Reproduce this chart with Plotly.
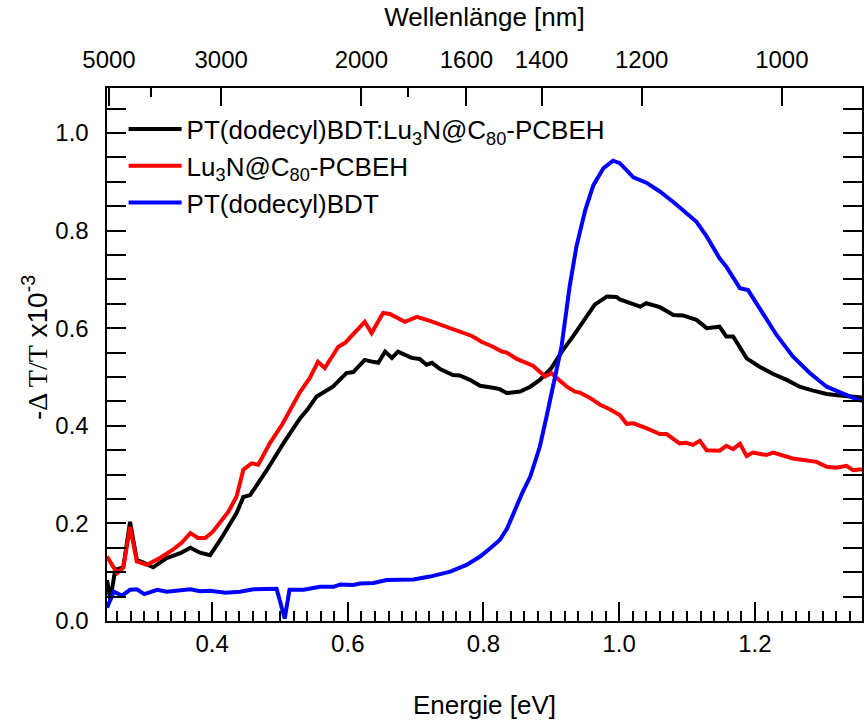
import plotly.graph_objects as go

# Energy axis values (eV) and -dT/T (x10^-3)
blend_e = [0.245, 0.250, 0.257, 0.269, 0.279, 0.289, 0.298, 0.313, 0.333, 0.353, 0.368, 0.382, 0.397,
           0.412, 0.436, 0.446, 0.456, 0.481, 0.505, 0.530, 0.540, 0.554, 0.578, 0.598, 0.608, 0.625,
           0.637, 0.645, 0.655, 0.665, 0.674, 0.694, 0.706, 0.716, 0.724, 0.736, 0.755, 0.765, 0.780,
           0.795, 0.814, 0.824, 0.834, 0.854, 0.869, 0.883, 0.900, 0.917, 0.932, 0.947, 0.964, 0.982,
           0.996, 1.001, 1.016, 1.031, 1.040, 1.060, 1.080, 1.094, 1.114, 1.129, 1.148, 1.158, 1.168,
           1.188, 1.207, 1.227, 1.247, 1.266, 1.286, 1.306, 1.325, 1.345, 1.358]
blend_v = [0.084, 0.043, 0.105, 0.110, 0.203, 0.125, 0.120, 0.110, 0.129, 0.139, 0.150, 0.140, 0.135,
           0.166, 0.221, 0.254, 0.258, 0.310, 0.364, 0.416, 0.432, 0.460, 0.480, 0.508, 0.510, 0.535,
           0.531, 0.529, 0.552, 0.539, 0.552, 0.539, 0.537, 0.525, 0.529, 0.516, 0.504, 0.503, 0.494,
           0.482, 0.478, 0.475, 0.467, 0.470, 0.480, 0.494, 0.518, 0.555, 0.583, 0.613, 0.648, 0.665,
           0.664, 0.659, 0.652, 0.644, 0.651, 0.643, 0.627, 0.626, 0.617, 0.600, 0.603, 0.583, 0.583,
           0.538, 0.521, 0.506, 0.494, 0.480, 0.472, 0.465, 0.462, 0.460, 0.458]

fullerene_e = [0.245, 0.260, 0.269, 0.279, 0.289, 0.304, 0.323, 0.341, 0.355, 0.368, 0.379, 0.390, 0.401,
               0.424, 0.436, 0.446, 0.458, 0.468, 0.485, 0.503, 0.530, 0.544, 0.556, 0.566, 0.586, 0.596,
               0.625, 0.635, 0.652, 0.662, 0.684, 0.702, 0.721, 0.736, 0.753, 0.768, 0.783, 0.797, 0.814,
               0.827, 0.834, 0.849, 0.864, 0.873, 0.891, 0.900, 0.908, 0.923, 0.935, 0.942, 0.957, 0.972,
               0.986, 1.001, 1.011, 1.021, 1.040, 1.060, 1.070, 1.089, 1.099, 1.109, 1.119, 1.129, 1.148,
               1.158, 1.168, 1.178, 1.188, 1.197, 1.217, 1.227, 1.256, 1.276, 1.291, 1.306, 1.320, 1.335,
               1.345, 1.358]
fullerene_v = [0.132, 0.098, 0.109, 0.193, 0.122, 0.115, 0.129, 0.145, 0.160, 0.180, 0.170, 0.170, 0.183,
               0.224, 0.255, 0.310, 0.323, 0.320, 0.364, 0.402, 0.470, 0.498, 0.531, 0.518, 0.562, 0.570,
               0.613, 0.590, 0.631, 0.629, 0.613, 0.623, 0.615, 0.607, 0.600, 0.590, 0.584, 0.572, 0.562,
               0.552, 0.550, 0.537, 0.527, 0.523, 0.501, 0.508, 0.498, 0.480, 0.470, 0.468, 0.457, 0.443,
               0.434, 0.422, 0.404, 0.405, 0.395, 0.383, 0.383, 0.364, 0.365, 0.361, 0.369, 0.350, 0.349,
               0.359, 0.352, 0.363, 0.338, 0.345, 0.340, 0.345, 0.333, 0.330, 0.326, 0.316, 0.314, 0.318,
               0.309, 0.311]

polymer_e = [0.245, 0.255, 0.267, 0.279, 0.289, 0.300, 0.319, 0.333, 0.368, 0.382, 0.397, 0.419, 0.441,
             0.461, 0.495, 0.500, 0.507, 0.514, 0.535, 0.559, 0.579, 0.589, 0.608, 0.618, 0.638, 0.657,
             0.697, 0.721, 0.751, 0.775, 0.795, 0.810, 0.824, 0.835, 0.846, 0.857, 0.869, 0.883, 0.893,
             0.902, 0.915, 0.927, 0.937, 0.950, 0.962, 0.977, 0.991, 1.001, 1.021, 1.040, 1.060, 1.082,
             1.099, 1.114, 1.129, 1.148, 1.158, 1.178, 1.190, 1.207, 1.232, 1.256, 1.281, 1.306, 1.325,
             1.335, 1.352, 1.358]
polymer_v = [0.027, 0.060, 0.052, 0.064, 0.065, 0.055, 0.064, 0.060, 0.065, 0.061, 0.062, 0.058, 0.060,
             0.065, 0.066, 0.040, 0.005, 0.064, 0.064, 0.070, 0.070, 0.075, 0.074, 0.077, 0.078, 0.084,
             0.085, 0.091, 0.101, 0.115, 0.132, 0.149, 0.166, 0.190, 0.227, 0.262, 0.296, 0.357, 0.419,
             0.480, 0.562, 0.685, 0.767, 0.842, 0.893, 0.928, 0.943, 0.938, 0.909, 0.898, 0.880, 0.856,
             0.835, 0.818, 0.788, 0.743, 0.726, 0.682, 0.678, 0.641, 0.586, 0.542, 0.508, 0.480, 0.468,
             0.463, 0.453, 0.451]

series_names = ["PT(dodecyl)BDT:Lu<sub>3</sub>N@C<sub>80</sub>-PCBEH",
                "Lu<sub>3</sub>N@C<sub>80</sub>-PCBEH",
                "PT(dodecyl)BDT"]
series_colors = ["#000000", "#ff0000", "#0000ff"]

energy_ticks = [0.4, 0.6, 0.8, 1.0, 1.2]
signal_ticks = [0.0, 0.2, 0.4, 0.6, 0.8, 1.0]

# Top axis: wavelength ticks (nm)
wl_major = [5000, 3000, 2000, 1600, 1400, 1200, 1000]
wl_minor = [4000, 1800]
HC = 1239.84  # eV*nm

x_range = [0.245, 1.358]
y_range = [0, 1.092]

fig = go.Figure()
for i, (xs, ys) in enumerate([(blend_e, blend_v), (fullerene_e, fullerene_v), (polymer_e, polymer_v)]):
    fig.add_trace(go.Scatter(x=xs, y=ys, mode="lines", name=series_names[i],
                             legendgroup=f"g{i}",
                             line=dict(color=series_colors[i], width=4)))

# invisible trace for the top axis
fig.add_trace(go.Scatter(x=[x_range[0]], y=[0], xaxis="x2", mode="markers",
                         marker=dict(opacity=0), showlegend=False, hoverinfo="skip"))

fam = "Liberation Sans, Arial, sans-serif"
tickfont = dict(family=fam, size=24, color="black")
titlefont = dict(family=fam, size=26, color="black")

fig.update_layout(
    width=864, height=720,
    margin=dict(l=107, r=2, t=88, b=99),
    paper_bgcolor="white", plot_bgcolor="white",
    font=dict(family=fam, size=24, color="black"),
    showlegend=True,
    legend=dict(x=0.022, y=0.967, xanchor="left", yanchor="top",
                bgcolor="rgba(0,0,0,0)", font=dict(family=fam, size=26, color="black"),
                tracegroupgap=0, itemwidth=53),
    xaxis=dict(range=x_range, showgrid=False, zeroline=False, automargin=False,
               showline=True, linecolor="black", linewidth=2,
               ticks="inside", ticklen=19, tickwidth=2, tickcolor="black",
               tickmode="array", tickvals=energy_ticks,
               ticktext=[f"{v:.1f}" for v in energy_ticks],
               minor=dict(ticks="inside", ticklen=10, tickwidth=2, tickcolor="black",
                          tickmode="linear", tick0=0.2, dtick=0.02),
               title=dict(text="Energie [eV]", standoff=43, font=titlefont),
               tickfont=tickfont),
    xaxis2=dict(range=x_range, overlaying="x", side="top", anchor="y", automargin=False,
                showgrid=False, zeroline=False,
                showline=True, linecolor="black", linewidth=2,
                ticks="inside", ticklen=18, tickwidth=2, tickcolor="black",
                tickmode="array", tickvals=[HC / w for w in wl_major],
                ticktext=[str(w) for w in wl_major],
                ticklabelstandoff=8,
                minor=dict(ticks="inside", ticklen=9, tickwidth=2, tickcolor="black",
                           tickmode="array", tickvals=[HC / w for w in wl_minor]),
                title=dict(text="Wellenlänge [nm]", standoff=12, font=titlefont),
                tickfont=tickfont),
    yaxis=dict(range=y_range, showgrid=False, zeroline=False, automargin=False,
               showline=True, linecolor="black", linewidth=2, mirror="allticks",
               ticks="inside", ticklen=19, tickwidth=2, tickcolor="black",
               tickmode="array", tickvals=signal_ticks,
               ticktext=[f"{v:.1f}\u00a0\u2009" for v in signal_ticks],
               minor=dict(ticks="inside", ticklen=10, tickwidth=2, tickcolor="black",
                          tickmode="linear", tick0=0, dtick=0.05),
               tickfont=tickfont),
)

fig.add_annotation(
    text="-<span style='font-family:Liberation Serif'>Δ T/T</span> x10<sup>-3</sup>",
    xref="paper", yref="paper", x=-0.0954, y=0.514, xanchor="center", yanchor="middle",
    textangle=-90, showarrow=False, font=dict(family=fam, size=28, color="black"))

fig.write_html("out.html", config={"displayModeBar": False},
               post_script="document.body.style.margin='0';document.body.style.padding='0';")
